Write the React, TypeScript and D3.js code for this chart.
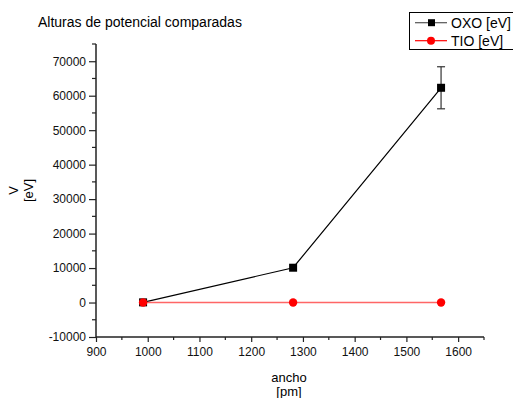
import * as d3 from "d3";
import { useEffect, useRef } from "react";

// data
const anchoPm = [991, 1281, 1567];
const oxoEv = [50, 10100, 62300];
const oxoErr = [0, 0, 6100];
const tioEv = [10, 10, 20];
const seriesNames = ["OXO [eV]", "TIO [eV]"];
const xTicks = [900, 1000, 1100, 1200, 1300, 1400, 1500, 1600];
const yTicks = [-10000, 0, 10000, 20000, 30000, 40000, 50000, 60000, 70000];

export default function App() {
  const width = 513;
  const height = 398;
  const marginLeft = 96;
  const marginRight = 29;
  const marginTop = 44;
  const marginBottom = 61;
  const font = "'Liberation Sans', Arial, sans-serif";
  const fmt = d => String(d); // plain hyphen for negatives, like the original

  const svgRef = useRef(null);

  useEffect(() => {
    const svg = d3.select(svgRef.current);
    svg.selectAll("*").remove();

    const x = d3.scaleLinear()
      .domain([900, 1650])
      .range([marginLeft, width - marginRight]);

    const y = d3.scaleLinear()
      .domain([-10000, 75000])
      .range([height - marginBottom, marginTop]);

    // title
    svg.append("text")
      .attr("x", 38)
      .attr("y", 27)
      .attr("font-size", "14px")
      .attr("font-family", font)
      .text("Alturas de potencial comparadas");

    // y axis
    const yAxis = d3.axisLeft(y)
      .tickValues(yTicks)
      .tickSize(7)
      .tickPadding(3)
      .tickFormat(fmt);

    svg.append("g")
      .attr("transform", `translate(${marginLeft},0)`)
      .call(yAxis)
      .call(g => {
        g.select(".domain").attr("d", `M0,${y(-10000)}V${y(75000)}`).attr("stroke", "#222").attr("stroke-width", 1.5);
        g.selectAll(".tick line").attr("stroke", "#222").attr("stroke-width", 1.2);
        g.selectAll(".tick text").attr("font-size", "12px").attr("font-family", font).attr("fill", "#111");
      });

    // y minor ticks
    svg.append("g")
      .selectAll("line")
      .data(d3.range(-5000, 75001, 10000))
      .enter()
      .append("line")
      .attr("x1", marginLeft - 4)
      .attr("x2", marginLeft)
      .attr("y1", d => y(d))
      .attr("y2", d => y(d))
      .attr("stroke", "#222")
      .attr("stroke-width", 1.2);

    // x axis
    const xAxis = d3.axisBottom(x)
      .tickValues(xTicks)
      .tickSize(5)
      .tickPadding(5)
      .tickFormat(fmt);

    svg.append("g")
      .attr("transform", `translate(0,${height - marginBottom})`)
      .call(xAxis)
      .call(g => {
        g.select(".domain").attr("d", `M${x(900)},0H${x(1650)}`).attr("stroke", "#222").attr("stroke-width", 1.5);
        g.selectAll(".tick line").attr("stroke", "#222").attr("stroke-width", 1.2);
        g.selectAll(".tick text").attr("font-size", "12px").attr("font-family", font).attr("fill", "#111");
      });

    // x minor ticks
    svg.append("g")
      .selectAll("line")
      .data(d3.range(950, 1651, 100))
      .enter()
      .append("line")
      .attr("x1", d => x(d))
      .attr("x2", d => x(d))
      .attr("y1", height - marginBottom)
      .attr("y2", height - marginBottom + 3)
      .attr("stroke", "#222")
      .attr("stroke-width", 1.2);

    // axis labels
    const yLab = svg.append("text")
      .attr("transform", `translate(18,${(marginTop + height - marginBottom) / 2}) rotate(-90)`)
      .attr("text-anchor", "middle")
      .attr("font-size", "13px")
      .attr("font-family", font);
    yLab.append("tspan").attr("x", 0).attr("y", 0).text("V");
    yLab.append("tspan").attr("x", 0).attr("y", 15).text("[eV]");

    const xLab = svg.append("text")
      .attr("text-anchor", "middle")
      .attr("font-size", "13px")
      .attr("font-family", font);
    xLab.append("tspan").attr("x", 289).attr("y", 382).text("ancho");
    xLab.append("tspan").attr("x", 289).attr("y", 396).text("[pm]");

    const oxo = anchoPm.map((a, i) => ({ x: a, y: oxoEv[i], err: oxoErr[i] }));
    const tio = anchoPm.map((a, i) => ({ x: a, y: tioEv[i] }));

    const line = d3.line()
      .x(d => x(d.x))
      .y(d => y(d.y));

    // OXO series
    svg.append("path")
      .datum(oxo)
      .attr("d", line)
      .attr("fill", "none")
      .attr("stroke", "#000")
      .attr("stroke-width", 1.2);

    const errs = svg.append("g")
      .selectAll("g")
      .data(oxo.filter(d => d.err > 0))
      .enter()
      .append("g")
      .attr("stroke", "#333")
      .attr("stroke-width", 1.2);
    errs.append("line")
      .attr("x1", d => x(d.x)).attr("x2", d => x(d.x))
      .attr("y1", d => y(d.y + d.err)).attr("y2", d => y(d.y - d.err));
    errs.append("line")
      .attr("x1", d => x(d.x) - 4).attr("x2", d => x(d.x) + 4)
      .attr("y1", d => y(d.y + d.err)).attr("y2", d => y(d.y + d.err));
    errs.append("line")
      .attr("x1", d => x(d.x) - 4).attr("x2", d => x(d.x) + 4)
      .attr("y1", d => y(d.y - d.err)).attr("y2", d => y(d.y - d.err));

    svg.append("g")
      .selectAll("rect")
      .data(oxo)
      .enter()
      .append("rect")
      .attr("x", d => x(d.x) - 4)
      .attr("y", d => y(d.y) - 4)
      .attr("width", 8)
      .attr("height", 8)
      .attr("fill", "#000");

    // TIO series
    svg.append("path")
      .datum(tio)
      .attr("d", line)
      .attr("fill", "none")
      .attr("stroke", "#f66")
      .attr("stroke-width", 1.5);

    svg.append("g")
      .selectAll("circle")
      .data(tio)
      .enter()
      .append("circle")
      .attr("cx", d => x(d.x))
      .attr("cy", d => y(d.y))
      .attr("r", 4.2)
      .attr("fill", "#f00");

    // legend
    const legend = svg.append("g");
    legend.append("rect")
      .attr("x", 409.5)
      .attr("y", 12.5)
      .attr("width", 120)
      .attr("height", 37)
      .attr("fill", "#fff")
      .attr("stroke", "#000")
      .attr("stroke-width", 1);

    const rows = legend.selectAll("g.row")
      .data(seriesNames)
      .enter()
      .append("g")
      .attr("class", "row")
      .attr("transform", (d, i) => `translate(0,${22.7 + i * 18})`);

    rows.append("line")
      .attr("x1", 415)
      .attr("x2", 447)
      .attr("y1", 0)
      .attr("y2", 0)
      .attr("stroke", (d, i) => (i === 0 ? "#555" : "#f00"))
      .attr("stroke-width", 1.2);

    rows.filter((d, i) => i === 0)
      .append("rect")
      .attr("x", 428)
      .attr("y", -3.5)
      .attr("width", 7)
      .attr("height", 7)
      .attr("fill", "#000");

    rows.filter((d, i) => i === 1)
      .append("circle")
      .attr("cx", 431)
      .attr("cy", 0)
      .attr("r", 4)
      .attr("fill", "#f00");

    rows.append("text")
      .attr("x", 451)
      .attr("y", 5)
      .attr("font-size", "14px")
      .attr("font-family", font)
      .text(d => d);
  }, []);

  return (
    <svg
      ref={svgRef}
      width={width}
      height={height}
      style={{ position: "absolute", left: 0, top: 0, background: "#fff" }}
    />
  );
}
